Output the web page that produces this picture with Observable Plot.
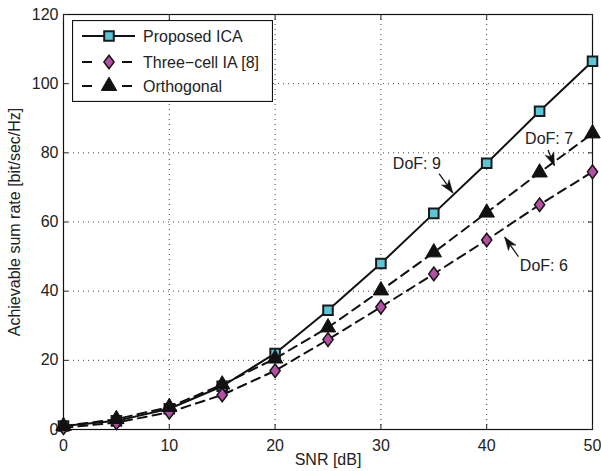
<!DOCTYPE html>
<html>
<head>
<meta charset="utf-8">
<script src="https://cdn.jsdelivr.net/npm/d3@7"></script>
<script src="https://cdn.jsdelivr.net/npm/@observablehq/plot@0.6"></script>
<style>
  html, body { margin: 0; padding: 0; background: #fff; }
  #wrap { position: relative; width: 601px; height: 471px; font-family: "Liberation Sans", Arial, sans-serif; }
  #legend { position: absolute; left: 72px; top: 20px; }
</style>
</head>
<body>
<div id="wrap"></div>
<script>
// ---- data ----
const snr = [0, 5, 10, 15, 20, 25, 30, 35, 40, 45, 50];
const proposedICA = [1, 2.5, 6, 12.5, 22, 34.5, 48, 62.5, 77, 92, 106.5];
const threeCellIA = [0.5, 2, 5, 10, 17, 26, 35.4, 45, 54.8, 65, 74.5];
const orthogonal = [1, 3, 6.5, 13, 20.5, 29.5, 40.2, 51.2, 62.7, 74.3, 85.6];
const seriesNames = ["Proposed ICA", "Three\u2212cell IA [8]", "Orthogonal"];
const xTicks = [0, 10, 20, 30, 40, 50];
const yTicks = [0, 20, 40, 60, 80, 100, 120];
// annotations: label position and arrow tail -> head (data units)
const annLabels = ["DoF: 9", "DoF: 7", "DoF: 6"];
const annTextX = [33.4, 45.9, 45.4];
const annTextY = [76.9, 84.0, 47.4];
const annTailX = [35.5, 45.8, 43.0];
const annTailY = [74.0, 80.8, 50.0];
const annHeadX = [36.8, 46.4, 41.7];
const annHeadY = [68.4, 76.3, 55.6];

const W = 601, H = 471, mL = 63, mR = 9, mT = 14, mB = 42;
const FONT = "Liberation Sans, Arial, sans-serif";

const diamondSym = {
  draw(ctx, size) {
    const h = Math.sqrt(size / 1.5), w = 0.75 * h;
    ctx.moveTo(0, -h); ctx.lineTo(w, 0); ctx.lineTo(0, h); ctx.lineTo(-w, 0); ctx.closePath();
  }
};
const headSym = {
  draw(ctx) {
    const L = 13, Wd = 4.6;
    ctx.moveTo(0, 0); ctx.lineTo(-L, -Wd); ctx.lineTo(-0.72 * L, 0); ctx.lineTo(-L, Wd); ctx.closePath();
  }
};

const styles = [
  {fill: "#5bc6d8", stroke: "#1a1a1a", dash: null, symbol: d3.symbolSquare, r: 5.4, sw: 2},
  {fill: "#b44fa4", stroke: "#151515", dash: "9,6", symbol: diamondSym, r: 4.7, sw: 1.5},
  {fill: "#111", stroke: "#111", dash: "9,6", symbol: d3.symbolTriangle, r: 5.7, sw: 1}
];
const seriesValues = [proposedICA, threeCellIA, orthogonal];

const rows = [];
seriesValues.forEach((vals, i) => snr.forEach((x, j) => rows.push({x, y: vals[j], s: i})));

const xs = Plot.scale({x: {domain: [0, 50], range: [mL, W - mR]}});
const ys = Plot.scale({y: {domain: [0, 120], range: [H - mB, mT]}});
const ann = annLabels.map((t, i) => {
  const dx = xs.apply(annHeadX[i]) - xs.apply(annTailX[i]);
  const dy = ys.apply(annHeadY[i]) - ys.apply(annTailY[i]);
  return {t, tx: annTextX[i], ty: annTextY[i], x1: annTailX[i], y1: annTailY[i], x2: annHeadX[i], y2: annHeadY[i],
          angle: Math.atan2(dy, dx) * 180 / Math.PI};
});

const marks = [
  Plot.ruleX(xTicks.slice(1, -1), {x: d => d, stroke: "#444", strokeWidth: 1, strokeDasharray: "1,4"}),
  Plot.ruleY(yTicks.slice(1, -1), {y: d => d, stroke: "#444", strokeWidth: 1, strokeDasharray: "1,4"}),
  Plot.frame({stroke: "#111", strokeWidth: 1.2}),
  Plot.axisX(xTicks, {anchor: "bottom", tickSize: -5, tickPadding: 15, fontSize: 16, label: "SNR [dB]", labelAnchor: "center", labelOffset: 35, labelArrow: "none"}),
  Plot.axisX(xTicks, {anchor: "top", tickSize: -5, tickFormat: () => "", label: null}),
  Plot.axisY(yTicks, {anchor: "left", tickSize: -5, tickPadding: 10, fontSize: 16, label: "Achievable sum rate [bit/sec/Hz]", labelAnchor: "center", labelOffset: 55, labelArrow: "none"}),
  Plot.axisY(yTicks, {anchor: "right", tickSize: -5, tickFormat: () => "", label: null})
];
styles.forEach((st, i) => {
  const data = rows.filter(d => d.s === i);
  marks.push(Plot.line(data, {x: "x", y: "y", stroke: "#111", strokeWidth: 2, strokeDasharray: st.dash}));
});
styles.forEach((st, i) => {
  const data = rows.filter(d => d.s === i);
  marks.push(Plot.dot(data, {x: "x", y: "y", symbol: st.symbol, r: st.r, fill: st.fill, stroke: st.stroke, strokeWidth: st.sw}));
});
marks.push(Plot.link(ann, {x1: "x1", y1: "y1", x2: "x2", y2: "y2", stroke: "#111", strokeWidth: 1.2}));
ann.forEach(a => marks.push(Plot.dot([a], {x: "x2", y: "y2", symbol: headSym, r: 5, fill: "#111", stroke: "#111", strokeWidth: 0.5, rotate: a.angle})));
marks.push(Plot.text(ann, {x: "tx", y: "ty", text: "t", fontSize: 16, fill: "#222"}));

const chart = Plot.plot({
  width: W, height: H,
  marginLeft: mL, marginRight: mR, marginTop: mT, marginBottom: mB,
  style: {fontFamily: FONT, fontSize: "16px", color: "#222", background: "#fff"},
  x: {domain: [0, 50]},
  y: {domain: [0, 120]},
  marks
});
const wrap = document.getElementById("wrap");
wrap.appendChild(chart);

// ---- legend overlay ----
const lw = 201, lh = 82;
const leg = d3.select(wrap).append("div").attr("id", "legend")
  .append("svg").attr("width", lw).attr("height", lh);
leg.append("rect").attr("x", 0.5).attr("y", 0.5).attr("width", lw - 1).attr("height", lh - 1)
  .attr("fill", "#fff").attr("stroke", "#111").attr("stroke-width", 1.2);
const rowY = [16, 42, 66];
seriesNames.forEach((name, i) => {
  const st = styles[i];
  const g = leg.append("g").attr("transform", `translate(0,${rowY[i]})`);
  g.append("line").attr("x1", 10).attr("x2", 63).attr("y1", 0).attr("y2", 0)
    .attr("stroke", "#111").attr("stroke-width", 2).attr("stroke-dasharray", st.dash ? "10,30" : null);
  g.append("path").attr("transform", "translate(37,0)")
    .attr("d", d3.symbol(st.symbol, Math.PI * st.r * st.r)())
    .attr("fill", st.fill).attr("stroke", st.stroke).attr("stroke-width", st.sw);
  g.append("text").attr("x", 71).attr("y", 0).attr("dy", "0.35em")
    .attr("font-size", 16).attr("fill", "#222").attr("font-family", FONT).text(name);
});
</script>
</body>
</html>
